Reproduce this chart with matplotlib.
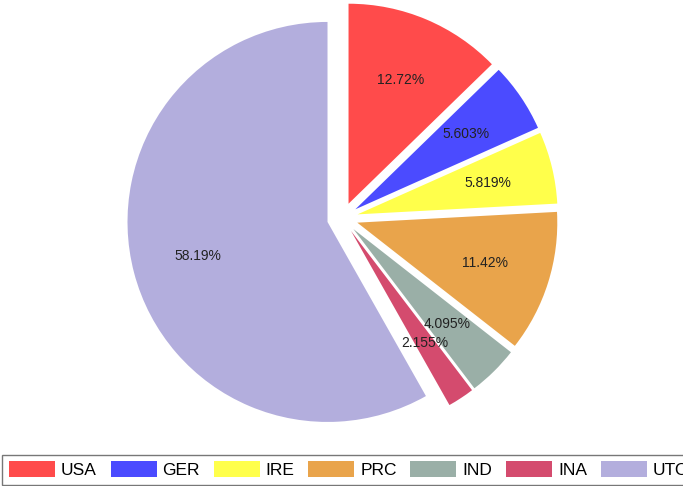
import matplotlib
matplotlib.use('Agg')
import matplotlib.pyplot as plt

# share of total, per country
countries = ['USA', 'GER', 'IRE', 'PRC', 'IND', 'INA', 'UTO']
shares = [12.72, 5.603, 5.819, 11.42, 4.095, 2.155, 58.19]
colors = ['#ff4b4b', '#4b4bff', '#ffff4b', '#e9a44b', '#9aafa7', '#d44b6e', '#b3aedd']

plt.rcParams['font.family'] = ['Liberation Sans', 'DejaVu Sans']

W, H = 683, 486
fig = plt.figure(figsize=(W / 100, H / 100), dpi=100)
ax = fig.add_axes([0, 0, 1, 1])

# pie centre / radius in pixels
cx, cy, r = 342.5, 218.0, 200.0

wedges, texts, autotexts = ax.pie(
    shares,
    colors=colors,
    startangle=90,
    counterclock=False,
    explode=[0.0775] * len(shares),
    autopct=lambda p: f'{p:.4g}%',
    pctdistance=0.67,
    textprops={'fontsize': 10, 'color': '#222222'},
)

ax.set_aspect('auto')
ax.set_xlim(-cx / r, (W - cx) / r)
ax.set_ylim(-(H - cy) / r, cy / r)
ax.axis('off')

fs = 12.5 * 100 / 72
fig.legend(
    wedges, countries,
    loc='lower left',
    bbox_to_anchor=(2 / W, 1 / H, 694 / W, 34 / H),
    mode='expand',
    ncol=7,
    fancybox=False,
    edgecolor='#777777',
    framealpha=1,
    borderaxespad=0,
    borderpad=0.4,
    handlelength=46 / fs,
    handleheight=17 / fs,
    handletextpad=6 / fs,
    prop={'size': 12.5},
)
fig.legends[0].get_frame().set_linewidth(1.0)

fig.savefig('out.png', dpi=100)
